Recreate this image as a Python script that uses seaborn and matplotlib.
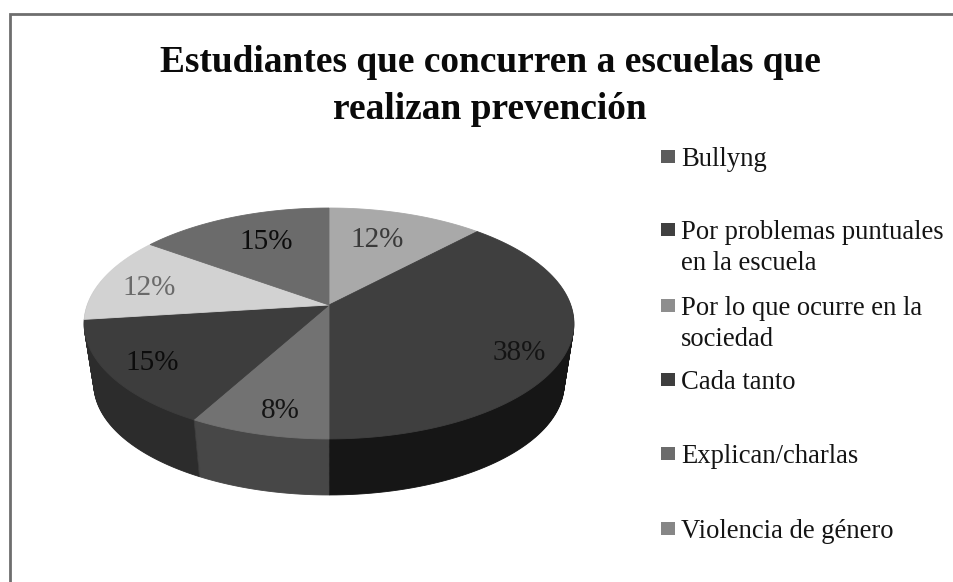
import numpy as np
import matplotlib
matplotlib.use("Agg")
import matplotlib.pyplot as plt
import seaborn as sns
from matplotlib.path import Path
from matplotlib.patches import Rectangle
from matplotlib.transforms import Transform

# ---- data (clockwise from 12 o'clock) ----
slice_values = [12, 38, 8, 15, 12, 15]
slice_labels = ["12%", "38%", "8%", "15%", "12%", "15%"]
legend_labels = ["Bullyng", "Por problemas puntuales\nen la escuela",
                 "Por lo que ocurre en la\nsociedad", "Cada tanto",
                 "Explican/charlas", "Violencia de género"]
title_text = "Estudiantes que concurren a escuelas que\nrealizan prevención"

# ---- styles ----
top_colors = ["#a9a9a9", "#3f3f3f", "#727272", "#3d3d3d", "#d2d2d2", "#6b6b6b"]
side_colors = ["#555555", "#161616", "#474747", "#2c2c2c", "#777777", "#444444"]
legend_colors = ["#5c5c5c", "#404040", "#8e8e8e", "#3e3e3e", "#6c6c6c", "#868686"]
label_colors = ["#3a3a3a", "#141414", "#141414", "#0c0c0c", "#6a6a6a", "#0c0c0c"]
legend_y = [156, 229, 305, 379, 453, 528]
label_xy = [(377, 240), (519, 353), (280, 411), (152, 363), (149, 288), (266, 242)]

sns.set_theme(style="white")
plt.rcParams["font.family"] = ["Liberation Serif", "DejaVu Serif"]


class PiePerspective(Transform):
    """Unit disc -> tilted disc, with perspective, in figure pixels."""
    input_dims = output_dims = 2
    is_affine = False
    has_inverse = False

    def __init__(self, cx=329.0, cy=305.0, a=241.8, b=112.5, p=0.16,
                 scale=1.0, drop=0.0):
        super().__init__()
        self.v = (cx, cy, a, b, p, scale, drop)

    def transform_non_affine(self, values):
        cx, cy, a, b, p, s, d = self.v
        xy = np.asarray(values, float)
        w = 1 + p * xy[:, 1]
        return np.column_stack([cx + s * a * xy[:, 0] / w,
                                cy + d - s * b * xy[:, 1] / w])

    def transform_path_non_affine(self, path):
        pts = []
        for seg, _ in path.iter_bezier():
            ts = np.linspace(0, 1, 24 if seg.degree > 1 else 2)
            pts.append(seg(ts))
        return Path(self.transform_non_affine(np.vstack(pts)))


fig = plt.figure(figsize=(9.54, 5.82), dpi=100, facecolor="white")
ax = fig.add_axes([0, 0, 1, 1])

DEPTH_LAYERS = 62
for i in range(DEPTH_LAYERS, -1, -1):
    t = i / DEPTH_LAYERS
    cols = side_colors if i > 0 else top_colors
    wedges, _ = ax.pie(slice_values, colors=cols, startangle=90, counterclock=False)
    tr = PiePerspective(scale=1 - 0.04 * t, drop=61.4 * t)
    for w, c in zip(wedges, cols):
        w.set_transform(tr + ax.transData)
        w.set_edgecolor(c)
        w.set_linewidth(0.6)

ax.set_aspect("auto")
ax.set_xlim(0, 954)
ax.set_ylim(582, 0)
ax.axis("off")

# frame: only the top and left edges fall inside the picture
ax.plot([10, 10, 954], [582, 13.5, 13.5], color="#6e6e6e", linewidth=2.0,
        solid_joinstyle="miter", clip_on=True)

# title
ax.text(490, 86, title_text, ha="center", va="center", fontsize=26.9,
        fontweight="bold", color="#0a0a0a", linespacing=1.48)

# percentage labels
for (x, y), s, c in zip(label_xy, slice_labels, label_colors):
    ax.text(x, y, s, ha="center", va="center", fontsize=21, color=c)

# legend
for y, s, c in zip(legend_y, legend_labels, legend_colors):
    ax.add_patch(Rectangle((661, y - 6.5), 14, 13, facecolor=c, edgecolor="none"))
    ax.text(681, y - 9, s, ha="left", va="top", fontsize=19.2, color="#141414",
            linespacing=1.3)

fig.savefig("out.png", dpi=100, facecolor="white")
